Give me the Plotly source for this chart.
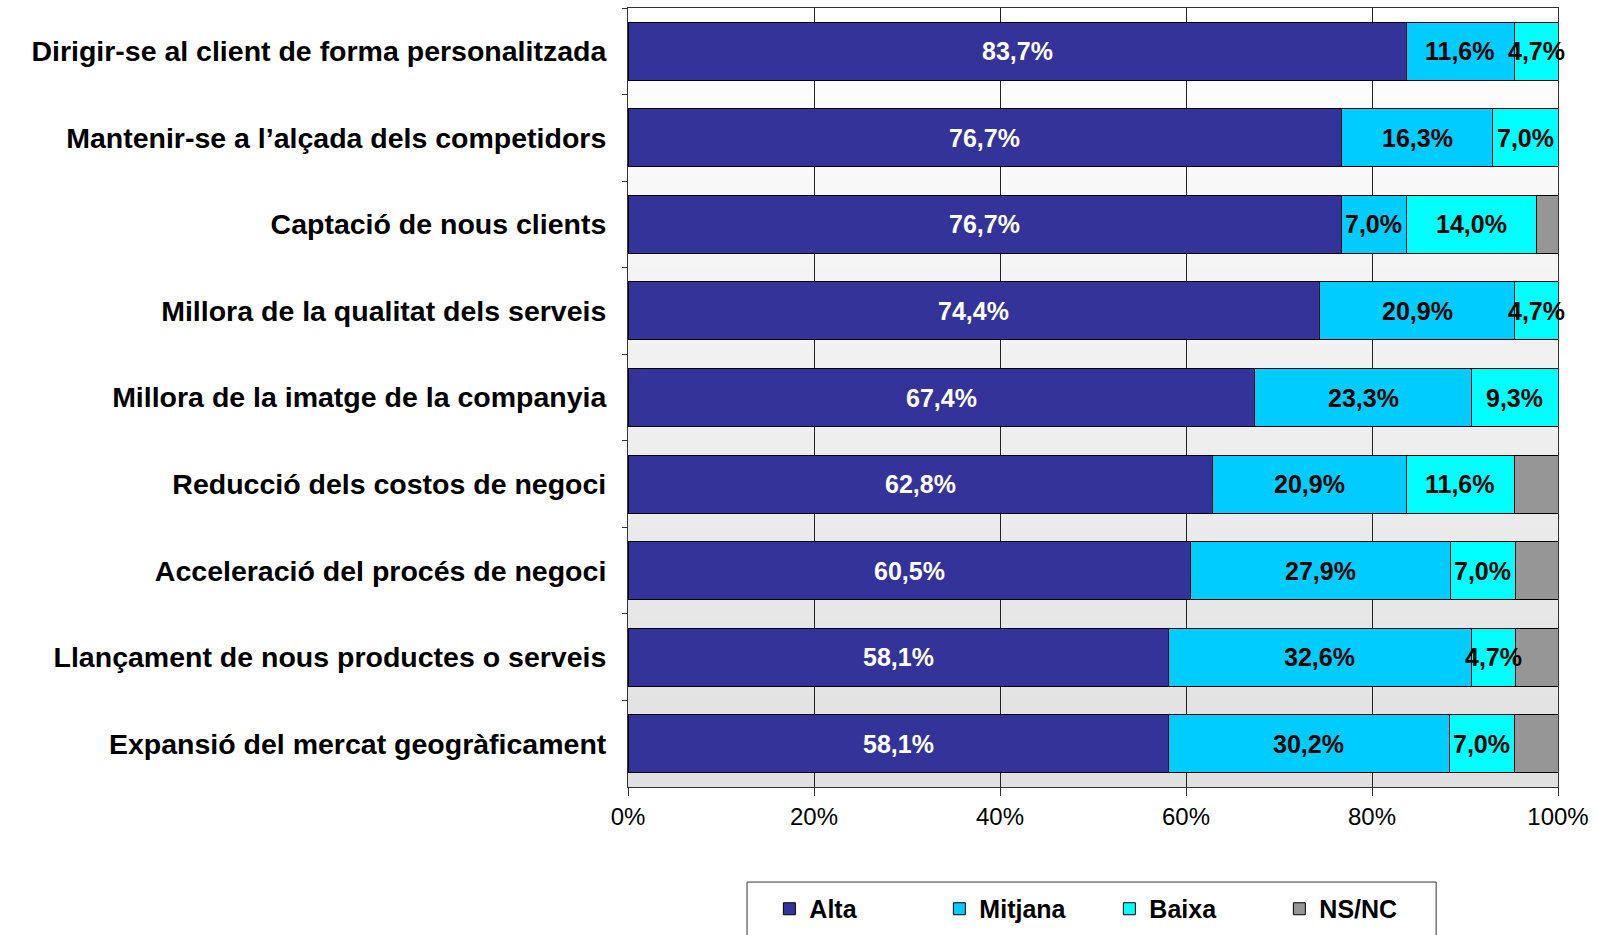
import plotly.graph_objects as go

categories = [
    "Dirigir-se al client de forma personalitzada",
    "Mantenir-se a l\u2019al\u00e7ada dels competidors",
    "Captaci\u00f3 de nous clients",
    "Millora de la qualitat dels serveis",
    "Millora de la imatge de la companyia",
    "Reducci\u00f3 dels costos de negoci",
    "Acceleraci\u00f3 del proc\u00e9s de negoci",
    "Llan\u00e7ament de nous productes o serveis",
    "Expansi\u00f3 del mercat geogr\u00e0ficament",
]
alta = [83.7, 76.7, 76.7, 74.4, 67.4, 62.8, 60.5, 58.1, 58.1]
mitjana = [11.6, 16.3, 7.0, 20.9, 23.3, 20.9, 27.9, 32.6, 30.2]
baixa = [4.7, 7.0, 14.0, 4.7, 9.3, 11.6, 7.0, 4.7, 7.0]
nsnc = [0.0, 0.0, 2.3, 0.0, 0.0, 4.7, 4.6, 4.6, 4.7]
x_ticks = [0, 20, 40, 60, 80, 100]
x_ticktext = ["0%", "20%", "40%", "60%", "80%", "100%"]

FONT = "Liberation Sans, Arial, sans-serif"


def fmt(v):
    return f"{v:.1f}".replace(".", ",") + "%"


series = [
    ("Alta", alta, "#333399", "white", True),
    ("Mitjana", mitjana, "#00ccff", "black", True),
    ("Baixa", baixa, "#00ffff", "black", True),
    ("NS/NC", nsnc, "#969696", "black", False),
]

fig = go.Figure()
annotations = []
base = [0.0] * len(categories)
for name, vals, color, tcolor, show_text in series:
    fig.add_trace(go.Bar(
        y=categories, x=vals, name=name, orientation="h",
        marker=dict(color=color, line=dict(color="black", width=1)),
        hoverinfo="skip",
    ))
    for i, (cat, v) in enumerate(zip(categories, vals)):
        if show_text and v > 0:
            annotations.append(dict(
                x=base[i] + v / 2, y=cat, xref="x", yref="y",
                text=fmt(v), showarrow=False,
                font=dict(family=FONT, size=25, color=tcolor, weight="bold"),
                xanchor="center", yanchor="middle",
            ))
        base[i] += v

# gradient plot background (white at top -> light gray at bottom)
n = 60
shapes = []
for i in range(n):
    y0 = i / n
    y1 = (i + 1) / n
    t = (y0 + y1) / 2
    g = int(round(224 + (255 - 224) * t))
    shapes.append(dict(type="rect", xref="x domain", yref="y domain",
                       x0=0, x1=1, y0=y0, y1=y1 + 0.001, layer="below",
                       line=dict(width=0), fillcolor=f"rgb({g},{g},{g})"))

# legend frame (extends below the bottom edge, as in the original)
shapes.append(dict(type="rect", xref="paper", yref="paper",
                   x0=0.128, x1=0.869, y0=-0.122, y1=-0.25,
                   line=dict(color="#333333", width=1), fillcolor="white",
                   layer="below"))

fig.update_layout(
    width=1597, height=935,
    margin=dict(l=628, r=39, t=8, b=148, autoexpand=False),
    barmode="stack", bargap=0.33,
    paper_bgcolor="white", plot_bgcolor="white",
    shapes=shapes,
    annotations=annotations,
    font=dict(family=FONT, color="black"),
    showlegend=True,
    legend=dict(
        orientation="h", x=0.152, xanchor="left", y=-0.1566, yanchor="middle",
        borderwidth=0, bgcolor="rgba(0,0,0,0)",
        font=dict(family=FONT, size=25, color="black", weight="bold"),
        entrywidth=125, entrywidthmode="pixels",
        traceorder="normal",
    ),
)
fig.update_xaxes(
    range=[0, 100], tickvals=x_ticks, ticktext=x_ticktext,
    showgrid=True, gridcolor="#222222", gridwidth=1,
    showline=True, linecolor="#333333", linewidth=1, mirror=True,
    ticks="outside", ticklen=8, tickcolor="#333333",
    tickfont=dict(family=FONT, size=24, color="black"),
    zeroline=False, fixedrange=True, automargin=False,
)
fig.update_yaxes(
    type="category", categoryorder="array", categoryarray=categories,
    autorange="reversed",
    showgrid=False, showline=True, linecolor="#333333", linewidth=1, mirror=True,
    ticks="outside", ticklen=5, tickcolor="#333333", tickson="boundaries",
    ticklabelstandoff=15,
    tickfont=dict(family=FONT, size=28.5, color="black", weight="bold"),
    fixedrange=True, automargin=False,
)

fig.write_html(
    "out.html",
    config={"displayModeBar": False},
    post_script="document.body.style.margin='0';document.body.style.overflow='hidden';",
)
